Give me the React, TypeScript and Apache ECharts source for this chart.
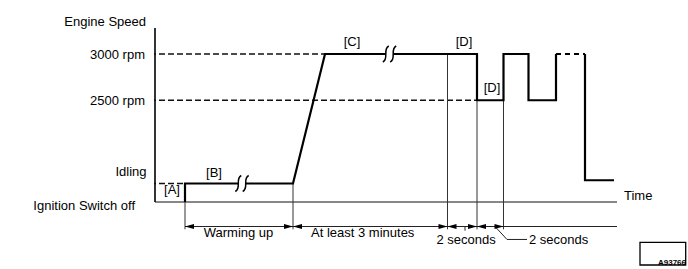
import React, { useEffect, useRef } from "react";
import * as echarts from "echarts";

// ---- Schematic scales (x: time units, y: level units) ----
// Engine trace (solid part)
const traceTime = [30, 30, 138, 170, 322, 322, 348.5, 348.5, 373.5, 373.5, 401, 401];
const traceLevel = [0, 2, 2, 16, 16, 11, 11, 16, 16, 11, 11, 16];
// Held at 3000 rpm (dashed part)
const holdTime = [401, 430];
const holdLevel = [16, 16];
// Return to idling
const dropTime = [430, 430, 459];
const dropLevel = [16, 2.35, 2.35];

// Speed levels with dashed reference lines
const yTickValues = [16, 11];
const yTickLabels = ["3000 rpm", "2500 rpm"];
const refLevels = [16, 11, 2];
const refEnds = [170, 322, 30];
const refStart = -5;

// Vertical guide lines (time, top level)
const guideTimes = [30, 138, 292.5, 322, 348.5];
const guideTops = [0, 2, 16, 11, 11];
const guideBottom = -2.95;

// Axes
const axisTop = 18.8;
const axisEnd = 462;

// Dimension line and arrows
const dimLevel = -2.65;
const dimStart = 30;
const arrowTimes = [30, 138, 138, 292.5, 292.5, 322, 322, 348.5];
const arrowDirs = [-1, 1, -1, 1, -1, 1, -1, 1];
const tickTime = 310;
const tickBottom = -3.1;
const leaderTimes = [340, 352, 372];
const leaderLevels = [-2.65, -4.05, -4.05];

// Break marks
const breakTimes = [87, 234.5];
const breakLevels = [2, 16];

// Texts
const labelTexts = [
  "Engine Speed",
  "Idling",
  "Ignition Switch off",
  "[A]",
  "[B]",
  "[C]",
  "[D]",
  "[D]",
  "Time",
  "Warming up",
  "At least 3 minutes",
  "2 seconds",
  "2 seconds",
  "A93766",
];
const labelTimes = [-9, -8.5, -20, 17, 59, 197, 309, 337, 469, 83.5, 207.7, 311, 374, 531];
const labelLevels = [19.5, 3.35, -0.43, 1.3, 3.24, 17.4, 17.4, 12.38, 0.65, -3.3, -3.35, -4.1, -4.1, -6.56];
const labelAligns = ["right", "right", "right", "center", "center", "center", "center", "center", "left", "center", "center", "center", "left", "right"];

// Figure id box corners (time, level)
const boxTimes = [485, 530.7];
const boxLevels = [-4.36, -6.81];

const FONT = "'Liberation Sans', Arial, sans-serif";

function zip(xs: number[], ys: number[]) {
  return xs.map((x, i) => [x, ys[i]]);
}

function lineSeries(data: number[][], width: number, color = "#000", dash: any = "solid", z = 2) {
  return {
    type: "line",
    data,
    symbol: "none",
    clip: false,
    silent: true,
    z,
    lineStyle: { color, width, type: dash, cap: "butt", join: "miter" },
  };
}

export default function App() {
  const ref = useRef<HTMLDivElement>(null);
  useEffect(() => {
    if (!ref.current) return;
    const chart = echarts.init(ref.current, null, { renderer: "svg" });
    const series: any[] = [];

    // axes
    series.push(lineSeries([[0, 0], [0, axisTop]], 1.6, "#000"));
    series.push(lineSeries([[0, 0], [axisEnd, 0]], 1, "#111"));

    // reference dashed lines
    refLevels.forEach((lv, i) => {
      series.push(lineSeries([[refStart, lv], [refEnds[i], lv]], 1.3, "#111", [6, 3]));
    });

    // guides
    guideTimes.forEach((t, i) => {
      series.push(lineSeries([[t, guideTops[i]], [t, guideBottom]], 1, "#333"));
    });

    // dimension line, tick, leader
    series.push(lineSeries([[dimStart, dimLevel], [axisEnd, dimLevel]], 1, "#222"));
    series.push(lineSeries([[tickTime, dimLevel], [tickTime, tickBottom]], 1, "#222"));
    series.push(lineSeries(zip(leaderTimes, leaderLevels), 1, "#222"));

    // trace
    series.push(lineSeries(zip(traceTime, traceLevel), 2.2, "#000", "solid", 4));
    series.push(lineSeries(zip(holdTime, holdLevel), 2.2, "#000", [5, 4], 4));
    series.push(lineSeries(zip(dropTime, dropLevel), 2.2, "#000", "solid", 4));

    // id box
    series.push({
      type: "custom",
      clip: false,
      silent: true,
      z: 3,
      data: [[boxTimes[0], boxLevels[0], boxTimes[1], boxLevels[1]]],
      renderItem: (params: any, api: any) => {
        const [x1, y1] = api.coord([api.value(0), api.value(1)]);
        const [x2, y2] = api.coord([api.value(2), api.value(3)]);
        return {
          type: "rect",
          shape: { x: x1, y: y1, width: x2 - x1, height: y2 - y1 },
          style: { fill: "none", stroke: "#000", lineWidth: 1.3 },
        };
      },
    });

    // arrows
    series.push({
      type: "custom",
      clip: false,
      silent: true,
      z: 5,
      data: arrowTimes.map((t, i) => [t, dimLevel, arrowDirs[i]]),
      renderItem: (params: any, api: any) => {
        const [px, py] = api.coord([api.value(0), api.value(1)]);
        const d = api.value(2);
        return {
          type: "polygon",
          shape: { points: [[px, py], [px - d * 9, py - 2.6], [px - d * 9, py + 2.6]] },
          style: { fill: "#000" },
        };
      },
    });

    // break marks
    series.push({
      type: "custom",
      clip: false,
      silent: true,
      z: 6,
      data: zip(breakTimes, breakLevels),
      renderItem: (params: any, api: any) => {
        const [px, py] = api.coord([api.value(0), api.value(1)]);
        const s = (cx: number) => ({
          type: "bezierCurve",
          shape: { x1: cx + 3, y1: py - 8, cpx1: cx - 3.5, cpy1: py - 5, cpx2: cx + 3.5, cpy2: py + 5, x2: cx - 3, y2: py + 8 },
          style: { stroke: "#000", lineWidth: 1.5, fill: null },
        });
        return {
          type: "group",
          children: [
            { type: "rect", shape: { x: px - 3.5, y: py - 3, width: 7, height: 6 }, style: { fill: "#fff" } },
            s(px - 3.7),
            s(px + 3.7),
          ],
        };
      },
    });

    // texts
    series.push({
      type: "custom",
      clip: false,
      silent: true,
      z: 7,
      data: zip(labelTimes, labelLevels),
      renderItem: (params: any, api: any) => {
        const [px, py] = api.coord([api.value(0), api.value(1)]);
        const i = params.dataIndex;
        const small = labelTexts[i] === "A93766";
        return {
          type: "text",
          x: px,
          y: py,
          style: {
            text: labelTexts[i],
            align: labelAligns[i],
            verticalAlign: "middle",
            fontSize: small ? 8 : 13,
            fontWeight: small ? "bold" : "normal",
            fontFamily: FONT,
            fill: "#000",
          },
        };
      },
    });

    chart.setOption({
      animation: false,
      backgroundColor: "#fff",
      grid: { left: 155, right: 71, top: 26.25, bottom: 2.25, containLabel: false },
      xAxis: { type: "value", min: 0, max: axisEnd, show: false },
      yAxis: {
        type: "value",
        min: -7,
        max: 19,
        interval: 1,
        axisLine: { show: false },
        axisTick: { show: false },
        splitLine: { show: false },
        axisLabel: {
          margin: 10,
          fontSize: 13,
          fontFamily: FONT,
          color: "#000",
          padding: [0, 0, 4, 0],
          formatter: (v: number) => {
            const i = yTickValues.indexOf(v);
            return i >= 0 ? yTickLabels[i] : "";
          },
        },
      },
      series,
    });
    return () => chart.dispose();
  }, []);
  return <div ref={ref} style={{ position: "absolute", left: 0, top: 0, width: 688, height: 269, background: "#fff" }} />;
}
